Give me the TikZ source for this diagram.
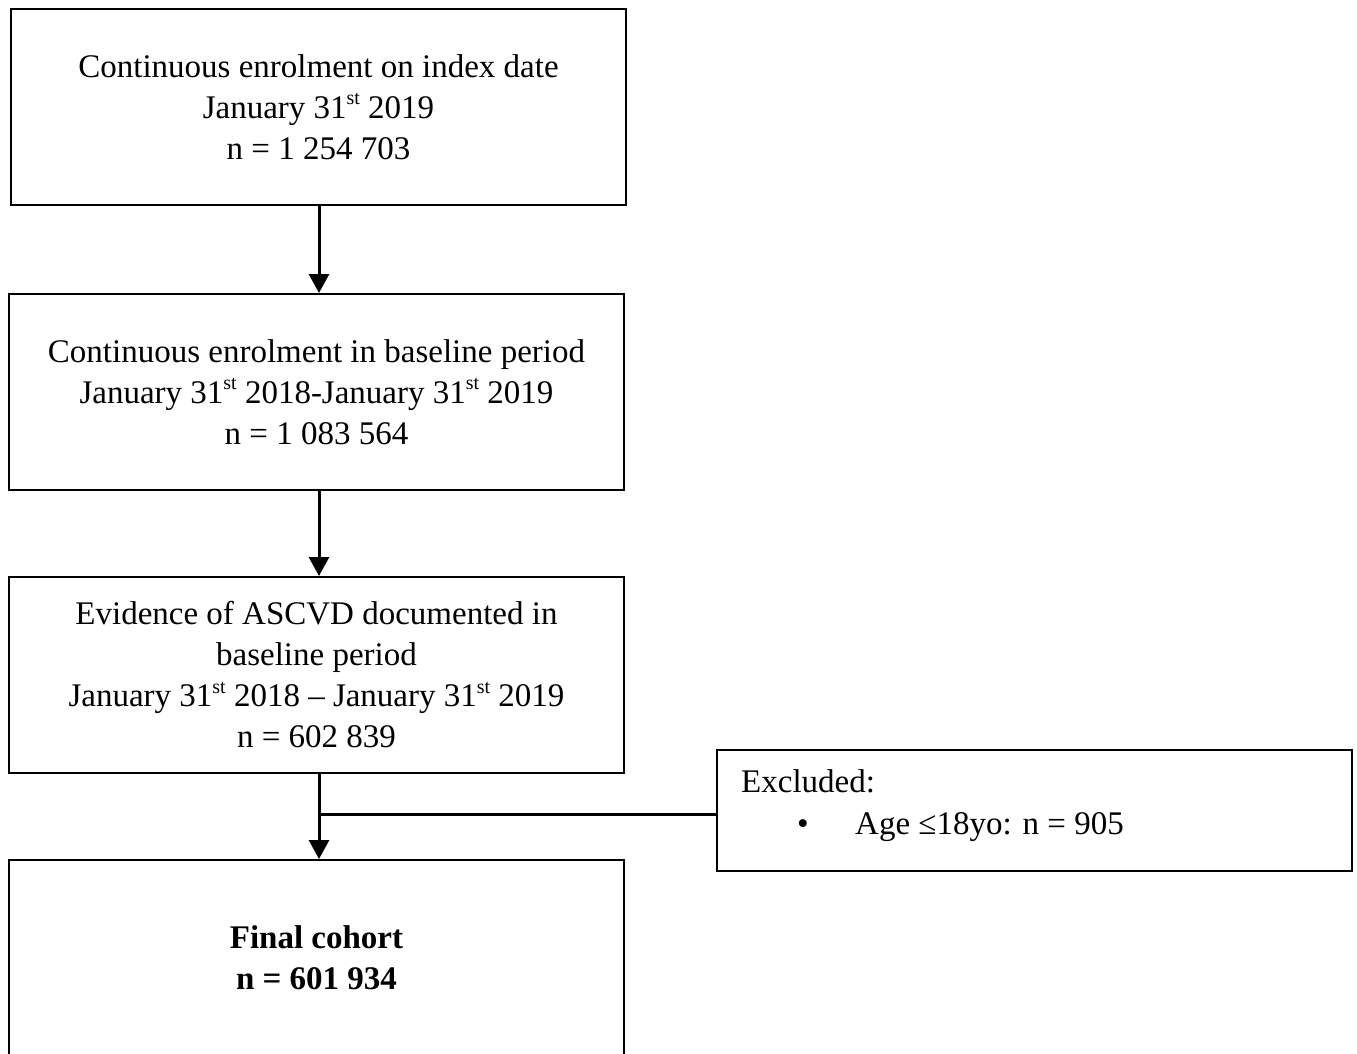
\documentclass[tikz,border=0pt]{standalone}
\usepackage{fontspec}
\setmainfont{Liberation Serif}
\usetikzlibrary{arrows.meta}
\newcommand{\supst}{\raisebox{0.42em}{\fontsize{20}{20}\selectfont st}}
\begin{document}
\begin{tikzpicture}[x=1pt,y=-1pt,
  box/.style={draw=black,line width=2pt,minimum width=615pt,minimum height=196pt,align=center,inner sep=0pt,font=\fontsize{33}{41}\selectfont},
  txt/.style={anchor=base west,inner sep=0pt,font=\fontsize{33}{41}\selectfont},
  conn/.style={line width=3pt,-{Triangle[width=20pt,length=19pt]}},
  plain/.style={line width=3pt}]
\useasboundingbox (0,0) rectangle (1357,1053);
\node[box] (b1) at (318.5,107) {Continuous enrolment on index date\\January 31\supst{} 2019\\n = 1 254 703};
\node[box] (b2) at (316.5,392) {Continuous enrolment in baseline period\\January 31\supst{} 2018-January 31\supst{} 2019\\n = 1 083 564};
\node[box] (b3) at (316.5,675) {Evidence of ASCVD documented in\\baseline period\\January 31\supst{} 2018 -- January 31\supst{} 2019\\n = 602 839};
\node[box,font=\fontsize{33}{41}\selectfont\bfseries] (b4) at (316.5,958) {Final cohort\\n = 601 934};
\node[box,minimum width=635pt,minimum height=121pt] (ex) at (1034.5,810.5) {};
\node[txt] (ex1) at (741,792) {Excluded:};
\node[txt] (ex2) at (797,834) {\textbullet};
\node[txt] (ex3) at (855,834) {Age ≤18yo: n = 905};
\coordinate (a1) at (319,205);
\coordinate (a2) at (319,490);
\coordinate (a3) at (319,773);
\coordinate (j) at (319,814);
\draw[conn] (a1) -- (a1 |- b2.north);
\draw[conn] (a2) -- (a2 |- b3.north);
\draw[conn] (a3) -- (a3 |- b4.north);
\draw[plain] (j) -- (ex.west |- j);
\end{tikzpicture}
\end{document}
